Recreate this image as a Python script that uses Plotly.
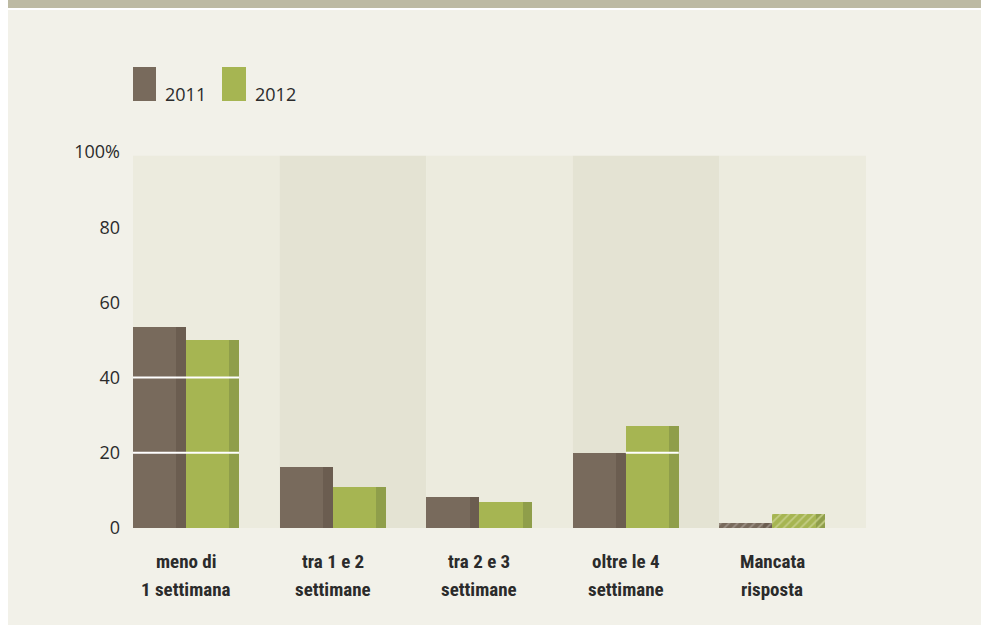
import plotly.graph_objects as go

# ---------------- data ----------------
cat_line1 = ["meno di", "tra 1 e 2", "tra 2 e 3", "oltre le 4", "Mancata"]
cat_line2 = ["1 settimana", "settimane", "settimane", "settimane", "risposta"]
years = ["2011", "2012"]
values_2011 = [53.5, 16.2, 8.2, 19.9, 1.4]
values_2012 = [50.0, 10.9, 6.9, 27.1, 3.8]
hatched = [False, False, False, False, True]
y_tickvals = [0, 20, 40, 60, 80, 100]
y_ticktext = ["0", "20", "40", "60", "80", "100%"]

# ---------------- style ----------------
W = 0.3615          # bar width (fraction of a category band)
E = 0.066           # dark right edge width
col_2011, edge_2011, hatch_2011 = "#786a5c", "#6b5d50", "#9c9085"
col_2012, edge_2012, hatch_2012 = "#a6b552", "#8f9e4a", "#c4cd85"
band_light, band_dark = "#ecebde", "#e4e3d3"
cream = "#f2f1e9"
txt = "#2b2b2b"

ML, MR, MT, MB = 133, 115, 152, 97
FW, FH = 981, 625
PW, PH = FW - ML - MR, FH - MT - MB


def px_x(p):
    return (p - ML) / PW


def px_y(p):
    return (FH - MB - p) / PH


n = len(cat_line1)
idx = list(range(n))
left = [i - 0.5 for i in idx]

fig = go.Figure()

series = [
    (values_2011, 0, col_2011, edge_2011, hatch_2011),
    (values_2012, 1, col_2012, edge_2012, hatch_2012),
]
shapes = []

for vals, k, col, edge, hcol in series:
    shape_list = ["/" if h else "" for h in hatched]
    main_x = [l + W * k + W / 2 for l in left]
    edge_x = [l + W * (k + 1) - E / 2 for l in left]
    fig.add_trace(go.Bar(
        x=main_x, y=vals, width=W, showlegend=False,
        marker=dict(color=col, line=dict(width=0),
                    pattern=dict(shape=shape_list, fgcolor=hcol, bgcolor=col,
                                 size=6, solidity=0.3, fillmode="replace")),
        hoverinfo="skip"))
    fig.add_trace(go.Bar(
        x=edge_x, y=vals, width=E, showlegend=False,
        marker=dict(color=edge, line=dict(width=0),
                    pattern=dict(shape=shape_list, fgcolor=hcol, bgcolor=edge,
                                 size=6, solidity=0.3, fillmode="replace")),
        hoverinfo="skip"))
    # white grid lines visible only across bars
    for i, v in enumerate(vals):
        for g in y_tickvals[1:-1]:
            if v > g:
                shapes.append(dict(type="line", xref="x", yref="y",
                                   x0=left[i] + W * k, x1=left[i] + W * (k + 1),
                                   y0=g, y1=g, line=dict(color="white", width=2),
                                   layer="above"))

# background panels
shapes.insert(0, dict(type="rect", xref="paper", yref="paper",
                      x0=px_x(8), x1=px_x(FW), y0=px_y(FH), y1=px_y(10),
                      fillcolor=cream, line=dict(width=0), layer="below"))
shapes.insert(1, dict(type="rect", xref="paper", yref="paper",
                      x0=px_x(8), x1=px_x(FW), y0=px_y(8), y1=px_y(0),
                      fillcolor="#bdbaa3", line=dict(width=0), layer="below"))
for i in idx:
    shapes.insert(2 + i, dict(type="rect", xref="x", yref="y",
                              x0=i - 0.5, x1=i + 0.5, y0=0, y1=99,
                              fillcolor=band_dark if i % 2 else band_light,
                              line=dict(width=0), layer="below"))

# legend (manual)
annotations = []
leg = [(years[0], col_2011, 133, 156, 163), (years[1], col_2012, 222, 246, 253)]
for name, col, x0, x1, tx in leg:
    shapes.append(dict(type="rect", xref="paper", yref="paper",
                       x0=px_x(x0), x1=px_x(x1), y0=px_y(101), y1=px_y(67),
                       fillcolor=col, line=dict(width=0)))
    annotations.append(dict(text=name, xref="paper", yref="paper",
                            x=px_x(tx), y=px_y(94), xanchor="left", yanchor="middle",
                            showarrow=False,
                            font=dict(family="Open Sans, Liberation Sans, sans-serif",
                                      size=18, color=txt)))

# category labels
for i in idx:
    for line, py in ((cat_line1[i], 561), (cat_line2[i], 589)):
        annotations.append(dict(text="<b>" + line + "</b>", xref="x", yref="paper",
                                x=left[i] + W, y=px_y(py), xanchor="center",
                                yanchor="middle", showarrow=False,
                                font=dict(family="Liberation Sans Narrow, Roboto Condensed, Lato, sans-serif",
                                          size=19, color=txt)))

fig.update_layout(
    width=FW, height=FH,
    margin=dict(l=ML, r=MR, t=MT, b=MB, pad=0),
    paper_bgcolor="white", plot_bgcolor="rgba(0,0,0,0)",
    barmode="overlay", bargap=0,
    shapes=shapes, annotations=annotations,
    showlegend=False,
    xaxis=dict(range=[-0.5, n - 0.5], showgrid=False, zeroline=False,
               showticklabels=False, ticks="", fixedrange=True),
    yaxis=dict(range=[0, 100], showgrid=False, zeroline=False,
               tickvals=y_tickvals, ticktext=y_ticktext, ticks="",
               ticklabelstandoff=12,
               tickfont=dict(family="Open Sans, Liberation Sans, sans-serif",
                             size=18, color=txt)),
)

fig.write_html("out.html", config={"displayModeBar": False},
               post_script="document.body.style.margin='0';document.body.style.overflow='hidden';")
